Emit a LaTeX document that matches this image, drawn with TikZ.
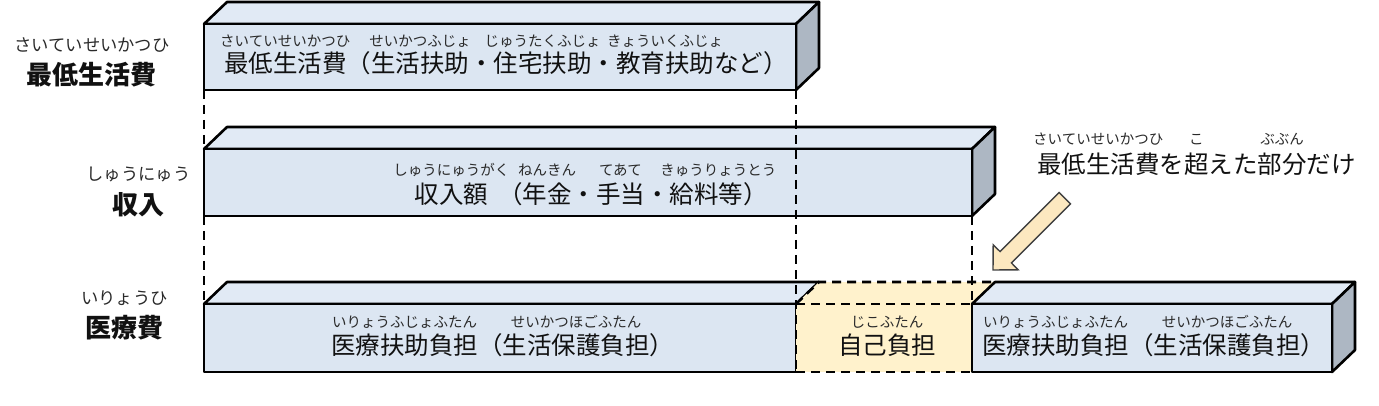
\documentclass[tikz,border=0pt]{standalone}
\usepackage{fontspec}
\newfontfamily\jp{Noto Sans CJK JP}
\definecolor{frontblue}{HTML}{DCE6F2}
\definecolor{topblue}{HTML}{E1EAF5}
\definecolor{sideblue}{HTML}{ADB7C3}
\definecolor{frontyel}{HTML}{FFF2CC}
\definecolor{topyel}{HTML}{FFF2CC}
\definecolor{arrowfill}{HTML}{FCE8C0}
\definecolor{inkc}{HTML}{111111}
\definecolor{rubyc}{HTML}{2A2A2A}
\tikzset{
  edge/.style={line width=2.6pt, line join=round, draw=black},
  dashline/.style={line width=2.6pt, draw=black, dash pattern=on 9pt off 6pt},
  base/.style={font=\jp\fontsize{24.5}{28}\selectfont, text=inkc, inner sep=0pt, outer sep=0pt, text height=21.56pt, text depth=2.94pt, anchor=west},
  ruby/.style={font=\jp\fontsize{14.5}{16}\selectfont, text=rubyc, inner sep=0pt, outer sep=0pt, text height=12.76pt, text depth=1.74pt},
  side/.style={font=\jp\bfseries\fontsize{26}{30}\selectfont, text=inkc, inner sep=0pt, outer sep=0pt, text height=22.9pt, text depth=3.1pt},
  sideruby/.style={font=\jp\fontsize{17.3}{19}\selectfont, text=rubyc, inner sep=0pt, outer sep=0pt, text height=15.2pt, text depth=2.1pt},
  blockarrow/.style={fill=arrowfill, draw=black!75, line width=1.4pt, line join=miter},
}
\begin{document}
\begin{tikzpicture}[x=1pt,y=-1pt]
\useasboundingbox (0,0) rectangle (1379,406);

% ---------- top bar: minimum cost of living ----------
\filldraw[edge, fill=topblue] (204,24) -- (227,2) -- (819,2) -- (796,24) -- cycle;
\filldraw[edge, fill=sideblue] (796,24) -- (819,2) -- (819,68) -- (796,90) -- cycle;
\filldraw[edge, fill=frontblue] (204,24) rectangle (796,90);

% ---------- middle bar: income ----------
\filldraw[edge, fill=topblue] (204,149) -- (227,127) -- (995,127) -- (972,149) -- cycle;
\filldraw[edge, fill=sideblue] (972,149) -- (995,127) -- (995,194) -- (972,216) -- cycle;
\filldraw[edge, fill=frontblue] (204,149) rectangle (972,216);

% ---------- bottom row ----------
% left blue part
\filldraw[edge, fill=topblue] (204,304) -- (227,282) -- (819,282) -- (796,304) -- cycle;
\filldraw[edge, fill=frontblue] (204,304) rectangle (796,372);
% yellow part (self pay)
\fill[topyel] (796,304) -- (819,282) -- (995,282) -- (972,304) -- cycle;
\fill[frontyel] (796,304) rectangle (972,372);
\draw[dashline] (796,304) -- (819,282) -- (995,282);
\draw[dashline] (796,304) -- (972,304);
\draw[dashline] (796,372) -- (972,372);

% vertical guide lines
\draw[dashline] (204,90) -- (204,149);
\draw[dashline] (204,216) -- (204,304);
\draw[dashline] (796,90) -- (796,372);
\draw[dashline] (972,216) -- (972,304);

% right blue part
\filldraw[edge, fill=topblue] (972,304) -- (995,282) -- (1355,282) -- (1332,304) -- cycle;
\filldraw[edge, fill=sideblue] (1332,304) -- (1355,282) -- (1355,350) -- (1332,372) -- cycle;
\filldraw[edge, fill=frontblue] (972,304) rectangle (1332,372);

% ---------- block arrow ----------
\filldraw[blockarrow] (993,270) -- (993.2,244.8) -- (1000.1,251.6) -- (1059.1,192.6)
  -- (1070.4,203.9) -- (1011.4,262.9) -- (1018.2,269.8) -- cycle;

% ---------- left labels ----------
\node[side] (g1) at (92,75) {最低生活費};
\node[sideruby] (rg1) at ([yshift=30pt]g1.center) {さいていせいかつひ};
\node[side] (h1) at (138.5,205) {収入};
\node[sideruby] (rh1) at ([yshift=31pt]h1.center) {しゅうにゅう};
\node[side] (i1) at (124.5,327.5) {医療費};
\node[sideruby] (ri1) at ([yshift=29.5pt]i1.center) {いりょうひ};

% ---------- box 1 text ----------
\node[base] (a1) at (224,63) {最低生活費};
\node[base] (a2) at (a1.east) {（};
\node[base] (a3) at (a2.east) {生活扶助};
\node[base] (a4) at (a3.east) {・};
\node[base] (a5) at (a4.east) {住宅扶助};
\node[base] (a6) at (a5.east) {・};
\node[base] (a7) at (a6.east) {教育扶助};
\node[base] (a8) at (a7.east) {など）};
\node[ruby] (ra1) at ([yshift=22pt]a1.center) {さいていせいかつひ};
\node[ruby] (ra3) at ([yshift=22pt]a3.center) {せいかつふじょ};
\node[ruby] (ra5) at ([yshift=22pt]a5.center) {じゅうたくふじょ};
\node[ruby] (ra7) at ([yshift=22pt]a7.center) {きょういくふじょ};

% ---------- box 2 text ----------
\node[base] (b1) at (414.5,194) {収入額};
\node[base] (b2) at ([xshift=10pt]b1.east) {（};
\node[base] (b3) at (b2.east) {年金};
\node[base] (b4) at (b3.east) {・};
\node[base] (b5) at (b4.east) {手当};
\node[base] (b6) at (b5.east) {・};
\node[base] (b7) at (b6.east) {給料等};
\node[base] (b8) at (b7.east) {）};
\node[ruby] (rb1) at ([yshift=24pt]b1.center) {しゅうにゅうがく};
\node[ruby] (rb3) at ([yshift=24pt]b3.center) {ねんきん};
\node[ruby] (rb5) at ([yshift=24pt]b5.center) {てあて};
\node[ruby] (rb7) at ([yshift=24pt,xshift=12pt]b7.center) {きゅうりょうとう};

% ---------- bottom left text ----------
\node[base] (c1) at (331,345) {医療扶助負担};
\node[base] (c2) at (c1.east) {（};
\node[base] (c3) at (c2.east) {生活保護負担};
\node[base] (c4) at (c3.east) {）};
\node[ruby] (rc1) at ([yshift=23pt]c1.center) {いりょうふじょふたん};
\node[ruby] (rc3) at ([yshift=23pt]c3.center) {せいかつほごふたん};

% ---------- self pay text ----------
\node[base] (d1) at (838,345) {自己負担};
\node[ruby] (rd1) at ([yshift=23pt]d1.center) {じこふたん};

% ---------- bottom right text ----------
\node[base] (e1) at (982,345) {医療扶助負担};
\node[base] (e2) at (e1.east) {（};
\node[base] (e3) at (e2.east) {生活保護負担};
\node[base] (e4) at (e3.east) {）};
\node[ruby] (re1) at ([yshift=23pt]e1.center) {いりょうふじょふたん};
\node[ruby] (re3) at ([yshift=23pt]e3.center) {せいかつほごふたん};

% ---------- annotation ----------
\node[base] (f1) at (1037,164) {最低生活費};
\node[base] (f2) at (f1.east) {を};
\node[base] (f3) at (f2.east) {超};
\node[base] (f4) at (f3.east) {えた};
\node[base] (f5) at (f4.east) {部分};
\node[base] (f6) at (f5.east) {だけ};
\node[ruby] (rf1) at ([yshift=25pt]f1.center) {さいていせいかつひ};
\node[ruby] (rf3) at ([yshift=25pt]f3.center) {こ};
\node[ruby] (rf5) at ([yshift=25pt]f5.center) {ぶぶん};
\end{tikzpicture}
\end{document}
